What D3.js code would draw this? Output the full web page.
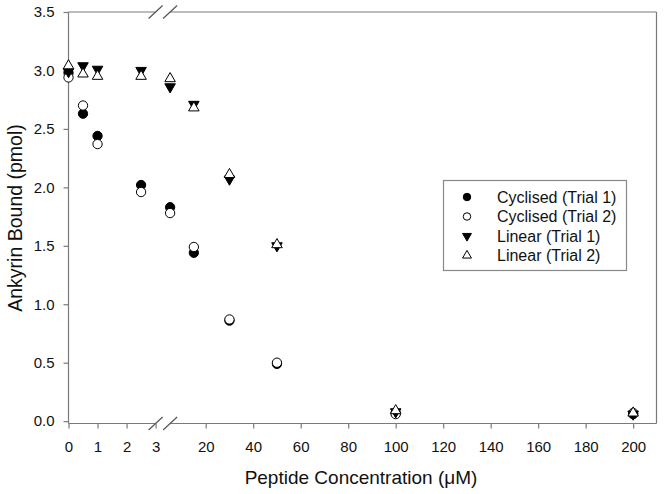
<!DOCTYPE html>
<html>
<head>
<meta charset="utf-8">
<script src="https://cdn.jsdelivr.net/npm/d3@7"></script>
<style>
  html, body { margin: 0; padding: 0; background: #fff; }
  svg { display: block; font-family: "Liberation Sans", Arial, sans-serif; }
</style>
</head>
<body>
<svg id="chart" width="664" height="494"></svg>
<script>
// ---- data ----
const concentrations = [0, 0.5, 1, 2.5, 5, 15, 30, 50, 100, 200];
const cyclisedTrial1 = [2.98, 2.63, 2.44, 2.02, 1.83, 1.44, 0.86, 0.49, 0.07, 0.06];
const cyclisedTrial2 = [2.94, 2.70, 2.37, 1.96, 1.78, 1.49, 0.87, 0.50, 0.06, 0.07];
const linearTrial1   = [2.99, 3.04, 3.01, 3.00, 2.86, 2.71, 2.07, 1.50, 0.08, 0.06];
const linearTrial2   = [3.04, 2.97, 2.95, 2.95, 2.93, 2.68, 2.11, 1.51, 0.09, 0.07];
const seriesNames = ["Cyclised (Trial 1)", "Cyclised (Trial 2)", "Linear (Trial 1)", "Linear (Trial 2)"];
const xTicksLeft = [0, 1, 2, 3];
const xTicksRight = [20, 40, 60, 80, 100, 120, 140, 160, 180, 200];
const yTicks = [0, 0.5, 1, 1.5, 2, 2.5, 3, 3.5];

(function () {
const svg = d3.select("#chart");

// ---- scales (broken x axis) ----
const xL = d3.scaleLinear().domain([0, 3]).range([68.5, 155.6]);
const xR = d3.scaleLinear().domain([5, 210]).range([170.1, 656.9]);
const xPos = v => (v <= 3 ? xL(v) : xR(v));
const y = d3.scaleLinear().domain([-0.02, 3.5]).range([423.5, 12]);

const axisColor = "#7a7a7a";
const pLeft = 68.5, pRight = 656.5, pTop = 12, pBottom = 423.5;
const gapA = xL(3), gapB = xR(5);

// ---- frame ----
const frame = svg.append("g").attr("stroke", axisColor).attr("stroke-width", 1.2).attr("fill", "none");
[pTop, pBottom].forEach(yy => {
  frame.append("line").attr("x1", pLeft).attr("x2", gapA).attr("y1", yy).attr("y2", yy);
  frame.append("line").attr("x1", gapB).attr("x2", pRight).attr("y1", yy).attr("y2", yy);
  [gapA, gapB].forEach(xx => {
    frame.append("line").attr("x1", xx - 7).attr("y1", yy + 6.5).attr("x2", xx + 7).attr("y2", yy - 6.5)
      .attr("stroke", "#555");
  });
});
frame.append("line").attr("x1", pLeft).attr("x2", pLeft).attr("y1", pTop).attr("y2", pBottom);
frame.append("line").attr("x1", pRight).attr("x2", pRight).attr("y1", pTop).attr("y2", pBottom);

// ---- axes ----
function styleAxis(g) {
  g.select(".domain").remove();
  g.selectAll(".tick line").attr("stroke", axisColor).attr("stroke-width", 1.2);
  g.selectAll(".tick text").attr("fill", "#111").attr("font-size", 15)
    .attr("font-family", "Liberation Sans, Arial, sans-serif");
}
svg.append("g").attr("transform", `translate(${pLeft},0)`)
  .call(d3.axisLeft(y).tickValues(yTicks).tickFormat(d3.format(".1f")).tickSize(5).tickPadding(9))
  .call(styleAxis);
svg.append("g").attr("transform", `translate(0,${pBottom})`)
  .call(d3.axisBottom(xL).tickValues(xTicksLeft).tickFormat(d3.format("d")).tickSize(5).tickPadding(13))
  .call(styleAxis);
svg.append("g").attr("transform", `translate(0,${pBottom})`)
  .call(d3.axisBottom(xR).tickValues(xTicksRight).tickFormat(d3.format("d")).tickSize(5).tickPadding(13))
  .call(styleAxis);

// ---- axis titles ----
svg.append("text").attr("x", 361).attr("y", 484).attr("text-anchor", "middle")
  .attr("font-size", 19).attr("fill", "#111")
  .text("Peptide Concentration (μM)");
svg.append("text").attr("transform", "translate(22,218) rotate(-90)").attr("text-anchor", "middle")
  .attr("font-size", 19.5).attr("fill", "#111")
  .text("Ankyrin Bound (pmol)");

// ---- markers ----
const circle = d3.symbol().type(d3.symbolCircle).size(68)();
const tri = d3.symbol().type(d3.symbolTriangle).size(48)();
const markerDefs = [
  { path: circle, fill: "#000", rot: 0 },
  { path: circle, fill: "#fff", rot: 0 },
  { path: tri, fill: "#000", rot: 180 },
  { path: tri, fill: "#fff", rot: 0 }
];
const allSeries = [cyclisedTrial1, cyclisedTrial2, linearTrial1, linearTrial2];

allSeries.forEach((vals, i) => {
  const m = markerDefs[i];
  svg.append("g").selectAll("path").data(vals).join("path")
    .attr("d", m.path)
    .attr("transform", (d, j) => `translate(${xPos(concentrations[j])},${y(d)}) rotate(${m.rot})`)
    .attr("fill", m.fill).attr("stroke", "#000").attr("stroke-width", 1);
});

// ---- legend ----
const lg = svg.append("g");
lg.append("rect").attr("x", 443.5).attr("y", 180.5).attr("width", 183).attr("height", 90)
  .attr("fill", "#fff").attr("stroke", "#888").attr("stroke-width", 1.2);
const lcircle = d3.symbol().type(d3.symbolCircle).size(44)();
const ltri = d3.symbol().type(d3.symbolTriangle).size(34)();
const legendPaths = [lcircle, lcircle, ltri, ltri];
seriesNames.forEach((name, i) => {
  const cy = 197 + i * 19.5;
  lg.append("path").attr("d", legendPaths[i])
    .attr("transform", `translate(467,${cy}) rotate(${markerDefs[i].rot})`)
    .attr("fill", markerDefs[i].fill).attr("stroke", "#000").attr("stroke-width", 1);
  lg.append("text").attr("x", 497).attr("y", cy).attr("dy", "0.36em")
    .attr("font-size", 16).attr("fill", "#111").text(name);
});
})();
</script>
</body>
</html>
